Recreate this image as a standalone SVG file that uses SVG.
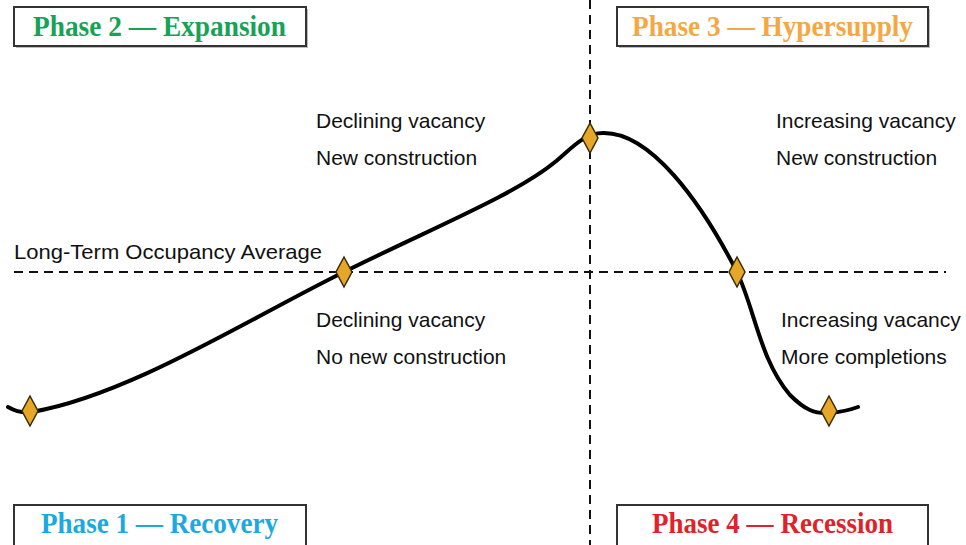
<svg xmlns="http://www.w3.org/2000/svg" width="966" height="545" viewBox="0 0 966 545">
<defs>
<style>
.box{fill:#fff;stroke:#333;stroke-width:2}
.shadow{fill:#bbb}
.title{font-family:"Liberation Serif",serif;font-weight:bold;font-size:30px}
.lbl{font-family:"Liberation Sans","Open Sans",sans-serif;font-size:21px;fill:#111}
.dash{stroke:#111;stroke-width:2;stroke-dasharray:9 6;fill:none}
.curve{stroke:#000;stroke-width:4;fill:none;stroke-linecap:round}
.dia{fill:#E6A628;stroke:#3a2a00;stroke-width:1.5}
</style>
<path id="diamond" d="M0,-15 L8,0 L0,15 L-8,0 Z"/>
</defs>
<rect width="966" height="545" fill="#fff"/>
<g id="connectors">
<line class="dash" x1="590" y1="0" x2="590" y2="545"/>
<line class="dash" x1="14" y1="272" x2="946" y2="272"/>
<path class="curve" d="M8,407 Q20,414 32,412 C130,395 250,318 344,272 C430,229 515,195 555,162 C572,148 584,133 603,133 C650,132 700,200 737,272 C755,310 760,360 790,395 C805,410 815,414 829,413 C840,412 850,410 858,407"/>
</g>
<g id="markers">
<use href="#diamond" class="dia" x="30" y="411"/>
<use href="#diamond" class="dia" x="344" y="272"/>
<use href="#diamond" class="dia" x="590" y="138"/>
<use href="#diamond" class="dia" x="737" y="272"/>
<use href="#diamond" class="dia" x="829" y="411"/>
</g>
<g id="phase2">
<rect class="shadow" x="16" y="9" width="292" height="39"/>
<rect class="box" x="14" y="7" width="292" height="39"/>
<text class="title" x="33" y="36" fill="#17A356" textLength="253" lengthAdjust="spacingAndGlyphs">Phase 2 — Expansion</text>
</g>
<g id="phase3">
<rect class="shadow" x="619" y="9" width="311" height="39"/>
<rect class="box" x="617" y="7" width="311" height="39"/>
<text class="title" x="632" y="36" fill="#F4A742" textLength="281" lengthAdjust="spacingAndGlyphs">Phase 3 — Hypersupply</text>
</g>
<g id="phase1">
<rect class="box" x="14" y="505" width="292" height="41"/>
<text class="title" x="41" y="533" fill="#1AA9E1" textLength="237" lengthAdjust="spacingAndGlyphs">Phase 1 — Recovery</text>
</g>
<g id="phase4">
<rect class="box" x="617" y="505" width="311" height="41"/>
<text class="title" x="652" y="533" fill="#E0222A" textLength="241" lengthAdjust="spacingAndGlyphs">Phase 4 — Recession</text>
</g>
<g id="labels">
<text class="lbl" x="14" y="259" textLength="308" lengthAdjust="spacingAndGlyphs">Long-Term Occupancy Average</text>
<text class="lbl" x="316" y="128">Declining vacancy</text>
<text class="lbl" x="316" y="165">New construction</text>
<text class="lbl" x="316" y="327">Declining vacancy</text>
<text class="lbl" x="316" y="364">No new construction</text>
<text class="lbl" x="776" y="128">Increasing vacancy</text>
<text class="lbl" x="776" y="165">New construction</text>
<text class="lbl" x="781" y="327">Increasing vacancy</text>
<text class="lbl" x="781" y="364">More completions</text>
</g>
</svg>
